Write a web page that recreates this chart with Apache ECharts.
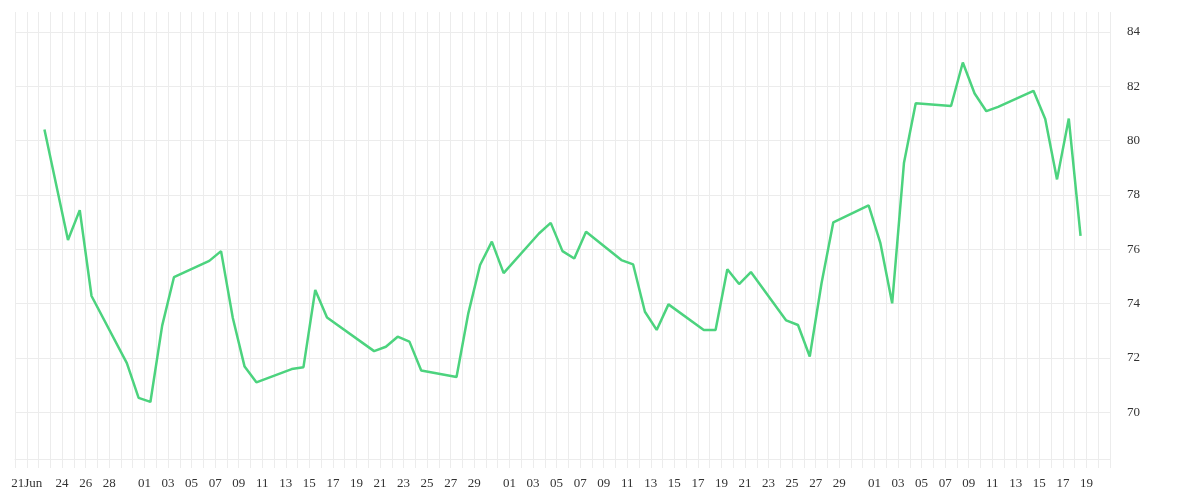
<!DOCTYPE html>
<html>
<head>
<meta charset="utf-8">
<script src="https://cdn.jsdelivr.net/npm/echarts@6/dist/echarts.min.js"></script>
<style>html,body{margin:0;padding:0;background:#fff}#c{width:1200px;height:500px}</style>
</head>
<body>
<div id="c"></div>
<script>
const dates = ['2015-06-22','2015-06-24','2015-06-25','2015-06-26','2015-06-29','2015-06-30',
'2015-07-01','2015-07-02','2015-07-03','2015-07-06','2015-07-07','2015-07-08','2015-07-09','2015-07-10',
'2015-07-13','2015-07-14','2015-07-15','2015-07-16','2015-07-20','2015-07-21','2015-07-22','2015-07-23',
'2015-07-24','2015-07-27','2015-07-28','2015-07-29','2015-07-30','2015-07-31',
'2015-08-03','2015-08-04','2015-08-05','2015-08-06','2015-08-07','2015-08-10','2015-08-11','2015-08-12',
'2015-08-13','2015-08-14','2015-08-17','2015-08-18','2015-08-19','2015-08-20','2015-08-21','2015-08-24',
'2015-08-25','2015-08-26','2015-08-27','2015-08-28','2015-08-31',
'2015-09-01','2015-09-02','2015-09-03','2015-09-04','2015-09-07','2015-09-08','2015-09-09','2015-09-10',
'2015-09-11','2015-09-14','2015-09-15','2015-09-16','2015-09-17','2015-09-18'];
const values = [80.41,76.34,77.44,74.28,71.81,70.53,
70.38,73.19,74.97,75.57,75.93,73.47,71.68,71.10,
71.59,71.66,74.50,73.49,72.25,72.41,72.78,72.60,
71.54,71.30,73.64,75.42,76.28,75.12,
76.58,76.97,75.93,75.66,76.64,75.60,75.44,73.70,
73.03,73.97,73.03,73.03,75.26,74.72,75.16,73.38,
73.21,72.05,74.75,76.99,77.61,
76.22,74.01,79.17,81.37,81.27,82.87,81.73,81.08,
81.24,81.83,80.79,78.57,80.81,76.49];
const xTickDates = ['2015-06-21','2015-06-24','2015-06-26','2015-06-28',
'2015-07-01','2015-07-03','2015-07-05','2015-07-07','2015-07-09','2015-07-11','2015-07-13','2015-07-15',
'2015-07-17','2015-07-19','2015-07-21','2015-07-23','2015-07-25','2015-07-27','2015-07-29',
'2015-08-01','2015-08-03','2015-08-05','2015-08-07','2015-08-09','2015-08-11','2015-08-13','2015-08-15',
'2015-08-17','2015-08-19','2015-08-21','2015-08-23','2015-08-25','2015-08-27','2015-08-29',
'2015-09-01','2015-09-03','2015-09-05','2015-09-07','2015-09-09','2015-09-11','2015-09-13','2015-09-15',
'2015-09-17','2015-09-19'];
const xTickTexts = ['21Jun','24','26','28',
'01','03','05','07','09','11','13','15','17','19','21','23','25','27','29',
'01','03','05','07','09','11','13','15','17','19','21','23','25','27','29',
'01','03','05','07','09','11','13','15','17','19'];
const axisStart = '2015-06-20';
const axisEnd = '2015-09-21';
const yMin = 68.28, yMax = 84.73;

function dayIndex(s) {
  const p = s.split('-').map(Number);
  const q = axisStart.split('-').map(Number);
  return Math.round((Date.UTC(p[0], p[1]-1, p[2]) - Date.UTC(q[0], q[1]-1, q[2])) / 86400000);
}
const labelMap = {};
xTickDates.forEach((d, i) => { labelMap[dayIndex(d)] = xTickTexts[i]; });
const seriesData = dates.map((d, i) => [dayIndex(d) + 0.5, values[i]]);

const font = 'Liberation Serif';
const chart = echarts.init(document.getElementById('c'));
chart.setOption({
  animation: false,
  backgroundColor: '#fff',
  grid: { left: 15, right: 90, top: 12, bottom: 41, containLabel: false },
  xAxis: {
    type: 'value', min: 0, max: dayIndex(axisEnd), interval: 1,
    axisLine: { show: true, lineStyle: { color: '#ececec', width: 1 } },
    axisTick: { show: true, length: 9, lineStyle: { color: '#ececec', width: 1 } },
    splitLine: { show: true, lineStyle: { color: '#ececec', width: 1 } },
    axisLabel: {
      margin: 18, fontFamily: font, fontSize: 13, color: '#333',
      formatter: v => labelMap[Math.round(v)] || ''
    }
  },
  yAxis: {
    type: 'value', position: 'right', min: yMin, max: yMax, splitNumber: 8,
    axisLine: { show: false }, axisTick: { show: false },
    splitLine: { show: true, showMaxLine: false, lineStyle: { color: '#ececec', width: 1 } },
    axisLabel: { margin: 17, fontFamily: font, fontSize: 13, color: '#333', showMinLabel: false, showMaxLabel: false }
  },
  series: [{
    type: 'line', data: seriesData, showSymbol: false, symbol: 'none',
    lineStyle: { color: '#4cd37e', width: 2.5 }, itemStyle: { color: '#4cd37e' }
  }]
});
</script>
</body>
</html>
